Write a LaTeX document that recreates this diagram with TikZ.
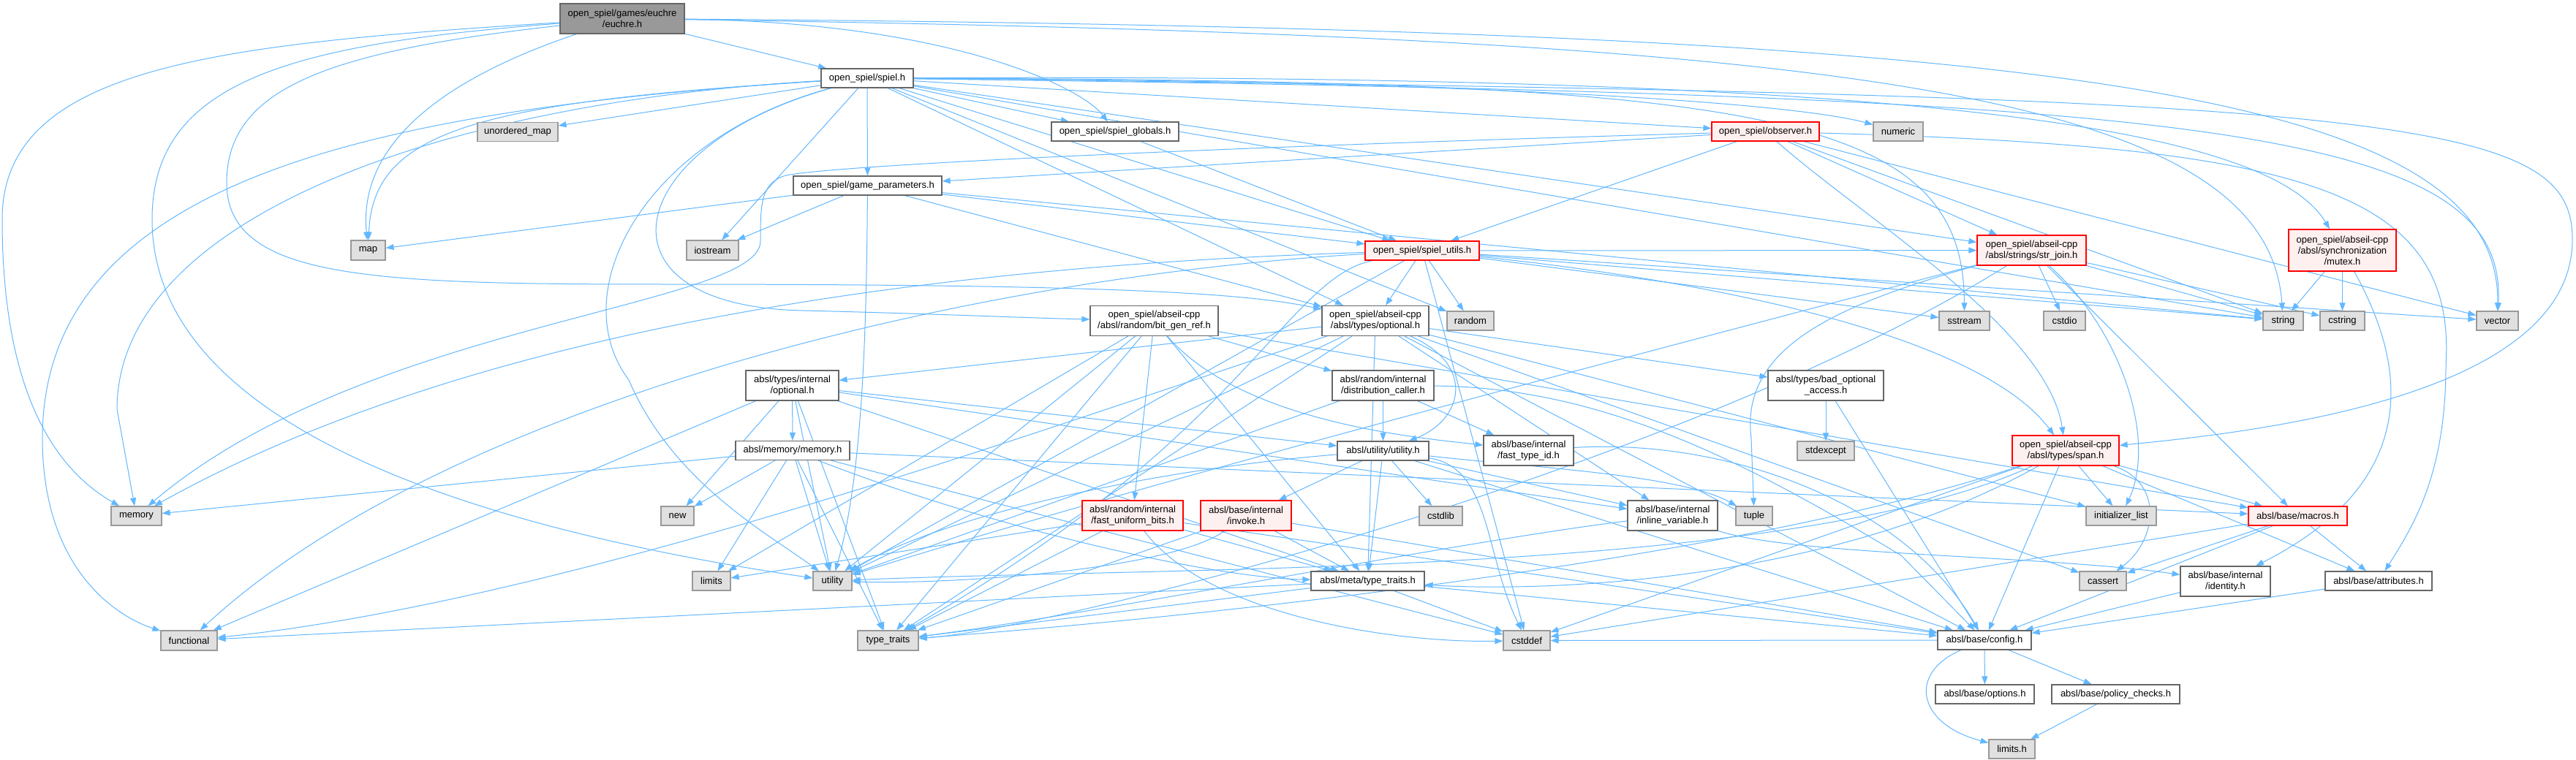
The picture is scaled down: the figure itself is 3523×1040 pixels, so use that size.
\documentclass[tikz,border=0pt]{standalone}
\usepackage{fontspec}
\setmainfont{Liberation Sans}
\usetikzlibrary{arrows.meta}
\definecolor{edgeblue}{HTML}{63B8FF}
\definecolor{nodeborder}{HTML}{666666}
\definecolor{sysfill}{HTML}{E0E0E0}
\definecolor{sysborder}{HTML}{999999}
\definecolor{cutfill}{HTML}{FFF0F0}
\definecolor{cutborder}{HTML}{FF0000}
\definecolor{rootfill}{HTML}{999999}
\pgfdeclarelayer{bg}
\pgfdeclarelayer{edges}
\pgfsetlayers{bg,edges,main}
\tikzset{
      filebox/.style={
        draw=nodeborder,
        fill=white,
        line width=1.2pt,
        inner sep=0pt,
        align=center,
        font=\fontsize{13}{15}\selectfont
      },
      sysbox/.style={filebox, draw=sysborder, fill=sysfill},
      cutbox/.style={filebox, draw=cutborder, fill=cutfill},
      rootbox/.style={filebox, draw=nodeborder, fill=rootfill},
      dims/.style 2 args={minimum width=#1pt, minimum height=#2pt},
      dep/.style={draw=edgeblue, line width=1pt, -{Triangle[length=11pt,width=8pt]}}
    }

\begin{document}
\begin{tikzpicture}[x=1pt,y=-1pt]
    \useasboundingbox (0,0) rectangle (3523,1040);
    \begin{pgfonlayer}{bg}
    \fill[white] (0,0) rectangle (3523,1040);
    \end{pgfonlayer}
    \node[rootbox, dims={170}{41}] (euchre) at (851,25.5) {open\_spiel/games/euchre\\/euchre.h};
    \node[filebox, dims={126}{26}] (spiel) at (1186,107) {open\_spiel/spiel.h};
    \node[sysbox, dims={110}{26}] (umap) at (708,180.5) {unordered\_map};
    \node[sysbox, dims={47}{27}] (map) at (503.5,342.5) {map};
    \node[filebox, dims={174}{26}] (globals) at (1525,180) {open\_spiel/spiel\_globals.h};
    \node[cutbox, dims={147}{26}] (observer) at (2414.5,180) {open\_spiel/observer.h};
    \node[sysbox, dims={68}{26}] (numeric) at (2596,180) {numeric};
    \node[filebox, dims={203}{26}] (params) at (1186.5,254) {open\_spiel/game\_parameters.h};
    \node[sysbox, dims={71}{27}] (iostream) at (974.5,342.5) {iostream};
    \node[cutbox, dims={156}{26}] (utils) at (1945,343) {open\_spiel/spiel\_utils.h};
    \node[cutbox, dims={149}{41}] (strjoin) at (2778.5,342.5) {open\_spiel/abseil-cpp\\/absl/strings/str\_join.h};
    \node[cutbox, dims={147}{57}] (mutex) at (3203.5,342.5) {open\_spiel/abseil-cpp\\/absl/synchronization\\/mutex.h};
    \node[filebox, dims={175}{41}] (bitgen) at (1578.5,439) {open\_spiel/abseil-cpp\\/absl/random/bit\_gen\_ref.h};
    \node[filebox, dims={146}{41}] (optional) at (1881,439) {open\_spiel/abseil-cpp\\/absl/types/optional.h};
    \node[sysbox, dims={64}{26}] (random) at (2011,439) {random};
    \node[sysbox, dims={69}{26}] (sstream) at (2686.5,439) {sstream};
    \node[sysbox, dims={57}{26}] (cstdio) at (2823.5,439) {cstdio};
    \node[sysbox, dims={55}{26}] (string) at (3122.5,439) {string};
    \node[sysbox, dims={61}{26}] (cstring) at (3203.5,439) {cstring};
    \node[sysbox, dims={57}{26}] (vector) at (3415.5,439) {vector};
    \node[filebox, dims={127}{41}] (intopt) at (1083.5,527.5) {absl/types/internal\\/optional.h};
    \node[filebox, dims={139}{41}] (distcall) at (1891.5,527.5) {absl/random/internal\\/distribution\_caller.h};
    \node[filebox, dims={158}{41}] (badopt) at (2497,527.5) {absl/types/bad\_optional\\\_access.h};
    \node[filebox, dims={156}{26}] (memoryh) at (1084,616.5) {absl/memory/memory.h};
    \node[filebox, dims={125}{26}] (utilityh) at (1891.5,617) {absl/utility/utility.h};
    \node[filebox, dims={123}{41}] (typeid) at (2090.5,616.5) {absl/base/internal\\/fast\_type\_id.h};
    \node[sysbox, dims={78}{26}] (stdexcept) at (2497,617) {stdexcept};
    \node[cutbox, dims={146}{41}] (span) at (2825,616.5) {open\_spiel/abseil-cpp\\/absl/types/span.h};
    \node[sysbox, dims={45}{26}] (new) at (926.5,706) {new};
    \node[cutbox, dims={138}{41}] (uniform) at (1549,705.5) {absl/random/internal\\/fast\_uniform\_bits.h};
    \node[cutbox, dims={124}{41}] (invoke) at (1704,705.5) {absl/base/internal\\/invoke.h};
    \node[sysbox, dims={59}{26}] (cstdlib) at (1970.5,706) {cstdlib};
    \node[filebox, dims={123}{41}] (inlinevar) at (2287.5,705.5) {absl/base/internal\\/inline\_variable.h};
    \node[sysbox, dims={50}{26}] (tuple) at (2399,706) {tuple};
    \node[sysbox, dims={96}{26}] (initlist) at (2901,706) {initializer\_list};
    \node[cutbox, dims={135}{26}] (macros) at (3142.5,706) {absl/base/macros.h};
    \node[sysbox, dims={69}{26}] (memory) at (186.5,706) {memory};
    \node[sysbox, dims={52}{26}] (limits) at (973,795) {limits};
    \node[sysbox, dims={53}{26}] (utility) at (1138.5,795) {utility};
    \node[filebox, dims={155}{26}] (metatt) at (1870.5,795) {absl/meta/type\_traits.h};
    \node[sysbox, dims={64}{26}] (cassert) at (2876,795) {cassert};
    \node[filebox, dims={123}{41}] (identity) at (3043.5,795.5) {absl/base/internal\\/identity.h};
    \node[filebox, dims={146}{26}] (attributes) at (3253,795) {absl/base/attributes.h};
    \node[sysbox, dims={77}{27}] (functional) at (258.5,876.5) {functional};
    \node[sysbox, dims={83}{27}] (typetraits) at (1214.5,876.5) {type\_traits};
    \node[sysbox, dims={64}{27}] (cstddef) at (2088,876.5) {cstddef};
    \node[filebox, dims={128}{26}] (config) at (2714,876) {absl/base/config.h};
    \node[filebox, dims={135}{26}] (options) at (2714.5,950) {absl/base/options.h};
    \node[filebox, dims={175}{26}] (policy) at (2893.5,950) {absl/base/policy\_checks.h};
    \node[sysbox, dims={63}{26}] (limitsh) at (2751.5,1025) {limits.h};
    \begin{pgfonlayer}{edges}
    \draw[dep] (euchre) -- (spiel);
    \draw[dep] (euchre) .. controls (1300,30) and (1480,120) .. (globals);
    \draw[dep] (euchre) .. controls (600,110) and (490,200) .. (map);
    \draw[dep] (euchre) .. controls (300,60) and (3,90) .. (3,300) .. controls (3,560) and (90,650) .. (memory);
    \draw[dep] (euchre) .. controls (400,60) and (208,110) .. (208,300) .. controls (208,600) and (700,730) .. (utility);
    \draw[dep] (euchre) .. controls (450,70) and (310,120) .. (310,250) .. controls (310,380) and (500,389) .. (900,389) .. controls (1500,389) and (1700,400) .. (optional);
    \draw[dep] (euchre) .. controls (2500,50) and (3100,120) .. (string);
    \draw[dep] (euchre) .. controls (2800,40) and (3420,120) .. (vector);
    \draw[dep] (spiel) -- (umap);
    \draw[dep] (spiel) .. controls (650,140) and (510,180) .. (map);
    \draw[dep] (spiel) .. controls (600,140) and (160,300) .. (160,560) -- (memory);
    \draw[dep] (spiel) .. controls (500,150) and (58,250) .. (58,600) .. controls (58,770) and (150,840) .. (functional);
    \draw[dep] (spiel) -- (iostream);
    \draw[dep] (spiel) -- (params);
    \draw[dep] (spiel) -- (globals);
    \draw[dep] (spiel) -- (observer);
    \draw[dep] (spiel) .. controls (2000,110) and (2450,140) .. (numeric);
    \draw[dep] (spiel) -- (utils);
    \draw[dep] (spiel) -- (strjoin);
    \draw[dep] (spiel) .. controls (2600,100) and (3100,170) .. (mutex);
    \draw[dep] (spiel) .. controls (850,200) and (800,420) .. (1100,425) .. controls (1300,430) and (1400,435) .. (bitgen);
    \draw[dep] (spiel) -- (optional);
    \draw[dep] (spiel) -- (random);
    \draw[dep] (spiel) .. controls (2400,110) and (2686,150) .. (sstream);
    \draw[dep] (spiel) -- (string);
    \draw[dep] (spiel) .. controls (3000,130) and (3430,170) .. (vector);
    \draw[dep] (spiel) .. controls (3300,130) and (3520,160) .. (3518,330) .. controls (3515,540) and (3100,590) .. (span);
    \draw[dep] (spiel) .. controls (880,190) and (770,400) .. (860,520) .. controls (920,660) and (1050,730) .. (utility);
    \draw[dep] (globals) -- (utils);
    \draw[dep] (observer) -- (params);
    \draw[dep] (observer) -- (utils);
    \draw[dep] (observer) -- (strjoin);
    \draw[dep] (observer) .. controls (2550,300) and (2800,450) .. (span);
    \draw[dep] (observer) -- (string);
    \draw[dep] (observer) -- (vector);
    \draw[dep] (observer) .. controls (1700,200) and (1150,225) .. (1075,240) .. controls (1040,250) and (1040,280) .. (1040,330) .. controls (1040,420) and (500,440) .. (memory);
    \draw[dep] (observer) .. controls (3150,200) and (3360,260) .. (3345,500) .. controls (3345,650) and (3300,720) .. (attributes);
    \draw[dep] (params) -- (iostream);
    \draw[dep] (params) -- (map);
    \draw[dep] (params) -- (string);
    \draw[dep] (params) .. controls (1185,450) and (1180,650) .. (utility);
    \draw[dep] (params) -- (utils);
    \draw[dep] (params) -- (optional);
    \draw[dep] (utils) -- (optional);
    \draw[dep] (utils) -- (random);
    \draw[dep] (utils) -- (sstream);
    \draw[dep] (utils) -- (string);
    \draw[dep] (utils) -- (vector);
    \draw[dep] (utils) -- (strjoin);
    \draw[dep] (utils) .. controls (2300,380) and (2700,450) .. (span);
    \draw[dep] (utils) .. controls (1400,360) and (700,420) .. (memory);
    \draw[dep] (utils) .. controls (1300,380) and (600,560) .. (functional);
    \draw[dep] (utils) .. controls (1760,380) and (1700,600) .. (typetraits);
    \draw[dep] (utils) -- (utility);
    \draw[dep] (utils) -- (cstddef);
    \draw[dep] (strjoin) -- (cstdio);
    \draw[dep] (strjoin) -- (string);
    \draw[dep] (strjoin) -- (cstring);
    \draw[dep] (strjoin) .. controls (2900,450) and (2950,600) .. (initlist);
    \draw[dep] (strjoin) .. controls (2500,420) and (2380,480) .. (2395,600) -- (tuple);
    \draw[dep] (strjoin) .. controls (2300,640) and (1450,860) .. (typetraits);
    \draw[dep] (strjoin) .. controls (2300,470) and (1600,650) .. (utility);
    \draw[dep] (strjoin) -- (macros);
    \draw[dep] (mutex) -- (string);
    \draw[dep] (mutex) -- (cstring);
    \draw[dep] (mutex) .. controls (3280,480) and (3330,650) .. (identity);
    \draw[dep] (bitgen) -- (limits);
    \draw[dep] (bitgen) -- (typetraits);
    \draw[dep] (bitgen) -- (utility);
    \draw[dep] (bitgen) .. controls (1700,580) and (1950,600) .. (typeid);
    \draw[dep] (bitgen) -- (macros);
    \draw[dep] (bitgen) -- (metatt);
    \draw[dep] (bitgen) -- (distcall);
    \draw[dep] (bitgen) -- (uniform);
    \draw[dep] (optional) -- (intopt);
    \draw[dep] (optional) -- (badopt);
    \draw[dep] (optional) .. controls (2020,500) and (2000,575) .. (utilityh);
    \draw[dep] (optional) -- (config);
    \draw[dep] (optional) -- (cassert);
    \draw[dep] (optional) .. controls (1500,560) and (800,820) .. (functional);
    \draw[dep] (optional) -- (initlist);
    \draw[dep] (optional) -- (typetraits);
    \draw[dep] (optional) -- (utility);
    \draw[dep] (optional) -- (inlinevar);
    \draw[dep] (optional) -- (metatt);
    \draw[dep] (intopt) -- (memoryh);
    \draw[dep] (intopt) -- (new);
    \draw[dep] (intopt) -- (functional);
    \draw[dep] (intopt) -- (typetraits);
    \draw[dep] (intopt) -- (utility);
    \draw[dep] (intopt) -- (inlinevar);
    \draw[dep] (intopt) -- (metatt);
    \draw[dep] (intopt) -- (utilityh);
    \draw[dep] (distcall) -- (utilityh);
    \draw[dep] (distcall) -- (typeid);
    \draw[dep] (distcall) .. controls (2200,530) and (2400,640) .. (2600,760) -- (config);
    \draw[dep] (distcall) -- (utility);
    \draw[dep] (badopt) -- (stdexcept);
    \draw[dep] (badopt) -- (config);
    \draw[dep] (memoryh) -- (memory);
    \draw[dep] (memoryh) -- (new);
    \draw[dep] (memoryh) -- (limits);
    \draw[dep] (memoryh) -- (utility);
    \draw[dep] (memoryh) -- (typetraits);
    \draw[dep] (memoryh) -- (cstddef);
    \draw[dep] (memoryh) -- (macros);
    \draw[dep] (memoryh) .. controls (1350,720) and (1650,790) .. (metatt);
    \draw[dep] (utilityh) -- (cstdlib);
    \draw[dep] (utilityh) .. controls (2100,640) and (2300,650) .. (tuple);
    \draw[dep] (utilityh) .. controls (1600,640) and (1300,700) .. (utility);
    \draw[dep] (utilityh) .. controls (2040,640) and (2030,760) .. (cstddef);
    \draw[dep] (utilityh) -- (config);
    \draw[dep] (utilityh) -- (inlinevar);
    \draw[dep] (utilityh) -- (invoke);
    \draw[dep] (utilityh) -- (metatt);
    \draw[dep] (typeid) .. controls (2350,600) and (2600,680) .. (config);
    \draw[dep] (span) .. controls (2960,660) and (2950,740) .. (cassert);
    \draw[dep] (span) -- (cstddef);
    \draw[dep] (span) -- (initlist);
    \draw[dep] (span) .. controls (2400,760) and (1700,840) .. (typetraits);
    \draw[dep] (span) .. controls (2450,790) and (1600,775) .. (utility);
    \draw[dep] (span) -- (attributes);
    \draw[dep] (span) -- (macros);
    \draw[dep] (span) .. controls (2500,800) and (2100,810) .. (metatt);
    \draw[dep] (span) -- (config);
    \draw[dep] (uniform) -- (limits);
    \draw[dep] (uniform) -- (typetraits);
    \draw[dep] (uniform) .. controls (1650,840) and (1900,880) .. (cstddef);
    \draw[dep] (uniform) -- (config);
    \draw[dep] (uniform) -- (metatt);
    \draw[dep] (invoke) -- (typetraits);
    \draw[dep] (invoke) .. controls (1600,780) and (1300,800) .. (utility);
    \draw[dep] (invoke) -- (metatt);
    \draw[dep] (invoke) -- (config);
    \draw[dep] (inlinevar) .. controls (2000,740) and (1500,840) .. (typetraits);
    \draw[dep] (inlinevar) .. controls (2450,760) and (2800,760) .. (identity);
    \draw[dep] (macros) -- (cassert);
    \draw[dep] (macros) -- (cstddef);
    \draw[dep] (macros) -- (attributes);
    \draw[dep] (macros) -- (config);
    \draw[dep] (metatt) -- (functional);
    \draw[dep] (metatt) -- (typetraits);
    \draw[dep] (metatt) -- (cstddef);
    \draw[dep] (metatt) -- (config);
    \draw[dep] (identity) -- (config);
    \draw[dep] (attributes) -- (config);
    \draw[dep] (config) -- (cstddef);
    \draw[dep] (config) -- (options);
    \draw[dep] (config) -- (policy);
    \draw[dep] (config) .. controls (2610,920) and (2620,990) .. (limitsh);
    \draw[dep] (policy) -- (limitsh);
    \end{pgfonlayer}
    \end{tikzpicture}
\end{document}
